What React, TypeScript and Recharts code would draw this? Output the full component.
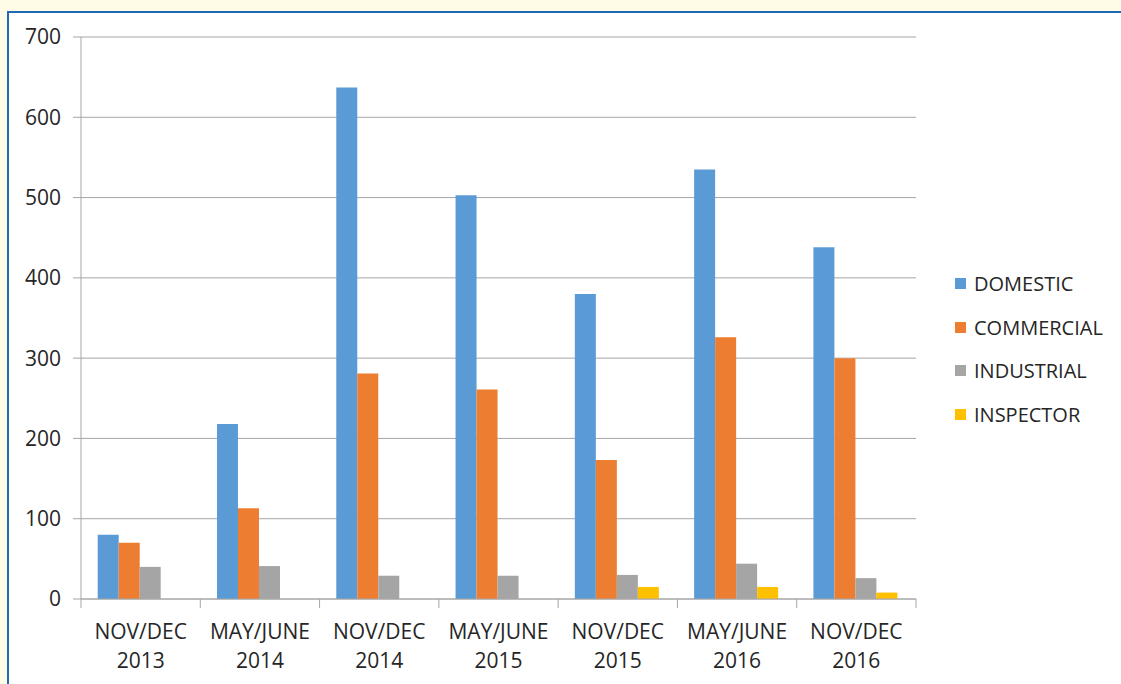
import { BarChart, Bar, XAxis, YAxis, CartesianGrid } from 'recharts'

const PERIODS = ['NOV/DEC', 'MAY/JUNE', 'NOV/DEC', 'MAY/JUNE', 'NOV/DEC', 'MAY/JUNE', 'NOV/DEC']
const YEARS = ['2013', '2014', '2014', '2015', '2015', '2016', '2016']

const DOMESTIC = [80, 218, 637, 503, 380, 535, 438]
const COMMERCIAL = [70, 113, 281, 261, 173, 326, 300]
const INDUSTRIAL = [40, 41, 29, 29, 30, 44, 26]
const INSPECTOR = [0, 0, 0, 0, 15, 15, 8]

const Y_TICKS = [0, 100, 200, 300, 400, 500, 600, 700]

const SERIES = [
  { key: 'DOMESTIC', values: DOMESTIC, color: '#5B9BD5' },
  { key: 'COMMERCIAL', values: COMMERCIAL, color: '#ED7D31' },
  { key: 'INDUSTRIAL', values: INDUSTRIAL, color: '#A5A5A5' },
  { key: 'INSPECTOR', values: INSPECTOR, color: '#FFC000' },
]

const W = 1121
const H = 684
const MARGIN = { top: 37, right: 205, bottom: 10, left: 0 }
const Y_AXIS_W = 81
const BAND = (W - MARGIN.left - MARGIN.right - Y_AXIS_W) / PERIODS.length
const FONT = '"Open Sans", sans-serif'
const FS = 21
const TEXT = '#262626'
const AXIS = '#A6A6A6'

const data = PERIODS.map((p, i) => ({
  name: `${p} ${YEARS[i]}`,
  ...Object.fromEntries(SERIES.map(s => [s.key, s.values[i]])),
}))

function XTick({ x, y, payload, index }: any) {
  const [a, b] = String(payload.value).split(' ')
  return (
    <g>
      <line x1={x - BAND / 2} x2={x - BAND / 2} y1={y} y2={y + 9} stroke={AXIS} />
      {index === PERIODS.length - 1 && (
        <line x1={x + BAND / 2} x2={x + BAND / 2} y1={y} y2={y + 9} stroke={AXIS} />
      )}
      <text x={x} y={y + 40} textAnchor="middle" fill={TEXT} fontSize={FS} fontFamily={FONT}>{a}</text>
      <text x={x} y={y + 69} textAnchor="middle" fill={TEXT} fontSize={FS} fontFamily={FONT}>{b}</text>
    </g>
  )
}

export default function App() {
  return (
    <div style={{ position: 'absolute', left: 0, top: 0, width: W, height: H, background: '#FEFBE6', overflow: 'hidden' }}>
      <div style={{
        position: 'absolute', left: 7, top: 11, width: W - 7, height: H - 11,
        background: '#fff', borderTop: '2px solid #1F6AB0', borderLeft: '2px solid #1F6AB0',
        boxSizing: 'border-box',
      }} />
      <div style={{ position: 'absolute', left: 0, top: 0 }}>
        <BarChart width={W} height={H} data={data} margin={MARGIN} barCategoryGap="14%" barGap={0}>
          <CartesianGrid vertical={false} stroke={AXIS} />
          <XAxis
            dataKey="name"
            height={75}
            interval={0}
            tickLine={false}
            tickSize={0}
            tickMargin={0}
            axisLine={{ stroke: AXIS }}
            tick={<XTick />}
          />
          <YAxis
            width={Y_AXIS_W}
            domain={[0, 700]}
            ticks={Y_TICKS}
            interval={0}
            tickSize={8}
            tickMargin={12}
            axisLine={{ stroke: AXIS }}
            tickLine={{ stroke: AXIS }}
            tick={{ fill: TEXT, fontSize: FS, fontFamily: FONT }}
          />
          {SERIES.map(s => (
            <Bar key={s.key} dataKey={s.key} fill={s.color} isAnimationActive={false} />
          ))}
        </BarChart>
      </div>
      <div style={{ position: 'absolute', left: 955, top: 262, fontFamily: FONT, fontSize: FS - 1, color: TEXT }}>
        {SERIES.map(s => (
          <div key={s.key} style={{ display: 'flex', alignItems: 'center', height: 43.5 }}>
            <span style={{ width: 11, height: 11, background: s.color, marginRight: 8, display: 'inline-block' }} />
            <span>{s.key}</span>
          </div>
        ))}
      </div>
    </div>
  )
}
